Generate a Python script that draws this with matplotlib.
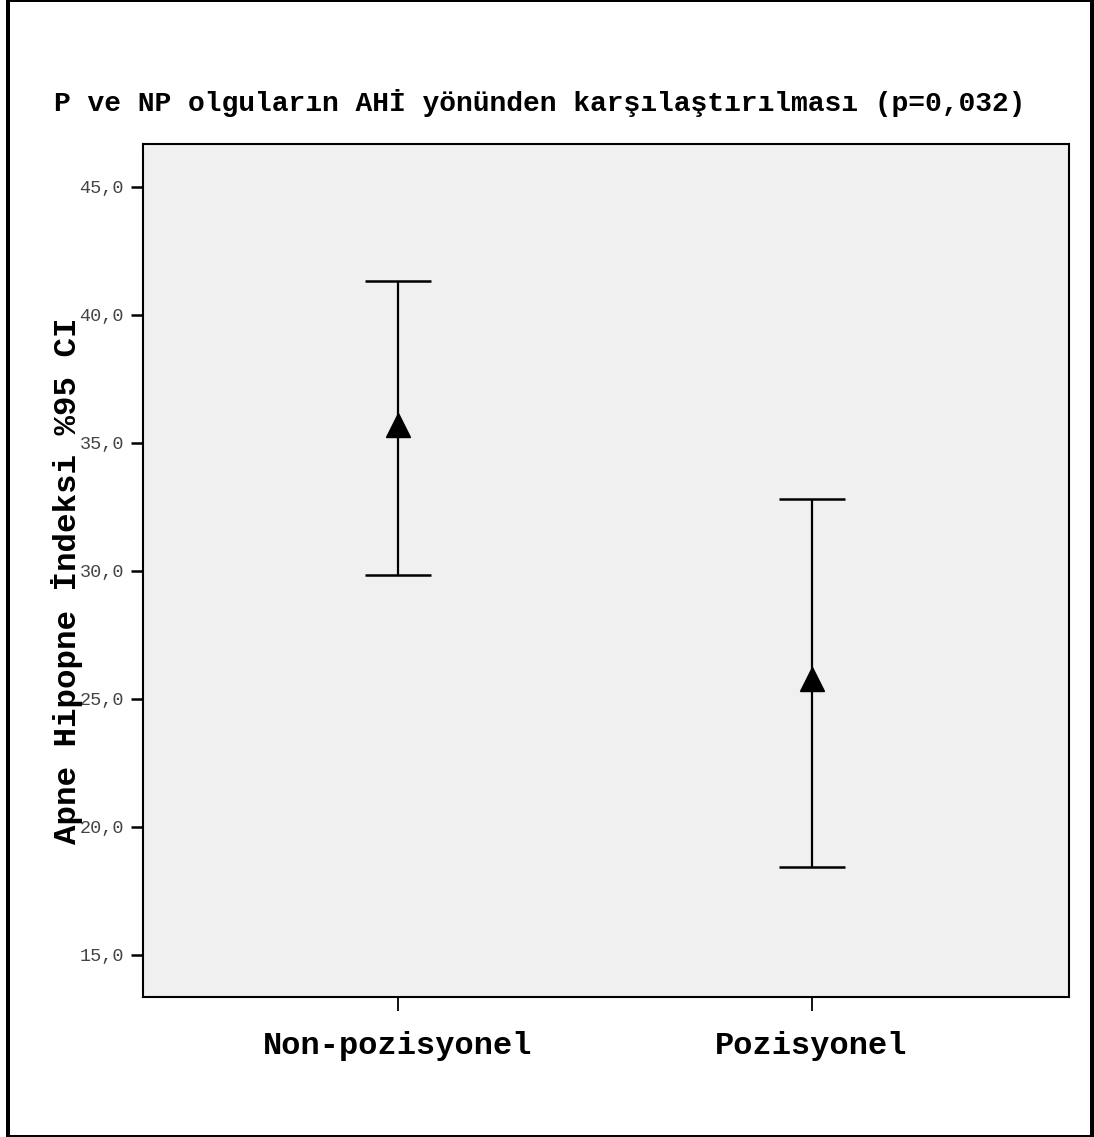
import matplotlib
matplotlib.use("Agg")
import matplotlib.pyplot as plt
from matplotlib.lines import Line2D
import numpy as np

categories = ["Non-pozisyonel", "Pozisyonel"]
means = [35.68, 25.78]
ci_lower = [29.84, 18.45]
ci_upper = [41.32, 32.81]
yticks = [15, 20, 25, 30, 35, 40, 45]
ytick_labels = ["15,0", "20,0", "25,0", "30,0", "35,0", "40,0", "45,0"]
title = "P ve NP olguların AHİ yönünden karşılaştırılması (p=0,032)"
ylabel = "Apne Hipopne İndeksi %95 CI"

W, H = 1094, 1137
DPI = 100
fig = plt.figure(figsize=(W / DPI, H / DPI), dpi=DPI)
fig.patch.set_facecolor("white")

def fx(px):
    return px / W

def fy(py):
    return 1 - py / H

ax = fig.add_axes([fx(143), fy(996.7), fx(1069) - fx(143), fy(144) - fy(996.7)])
ax.set_facecolor("#f0f0f0")

x = np.arange(len(categories))
means_a = np.array(means)
yerr = np.vstack([means_a - np.array(ci_lower), np.array(ci_upper) - means_a])
ax.errorbar(x, means_a, yerr=yerr, fmt="none", ecolor="black",
            elinewidth=1.6, capsize=23.5, capthick=1.8, zorder=2)
ax.plot(x, means_a, linestyle="none", marker="^", markersize=17,
        color="black", markeredgecolor="black", zorder=3)

ax.set_xlim(-0.615, 1.622)
ax.set_ylim(13.37, 46.66)
ax.set_yticks(yticks)
ax.set_yticklabels(ytick_labels, fontfamily="Liberation Mono", fontsize=13.3,
                   color="#444444")
ax.set_xticks(x)
ax.set_xticklabels(categories, fontfamily="Liberation Mono", fontweight="bold",
                   fontsize=23, color="black")
ax.tick_params(axis="y", direction="out", length=8.6, width=1.8, pad=5)
ax.tick_params(axis="x", direction="out", length=10, width=1.3, pad=15)
for s in ax.spines.values():
    s.set_linewidth(1.5)
    s.set_color("black")

fig.text(fx(540), fy(103), title, ha="center", va="center",
         fontfamily="Liberation Mono", fontweight="bold", fontsize=20.2)
fig.text(fx(67), fy(581), ylabel, ha="center", va="center", rotation=90,
         fontfamily="Liberation Mono", fontweight="bold", fontsize=23.4)

# figure border
def border(x0, y0, x1, y1, lwpx):
    fig.add_artist(Line2D([fx(x0), fx(x1)], [fy(y0), fy(y1)],
                          transform=fig.transFigure, color="black",
                          linewidth=lwpx * 72 / DPI, solid_capstyle="projecting"))

border(8, 1, 8, 1136, 4)
border(1091.5, 1, 1091.5, 1136, 5)
border(8, 1, 1091.5, 1, 2)
border(8, 1136, 1091.5, 1136, 2)

fig.savefig("out.png", dpi=DPI, facecolor="white")
